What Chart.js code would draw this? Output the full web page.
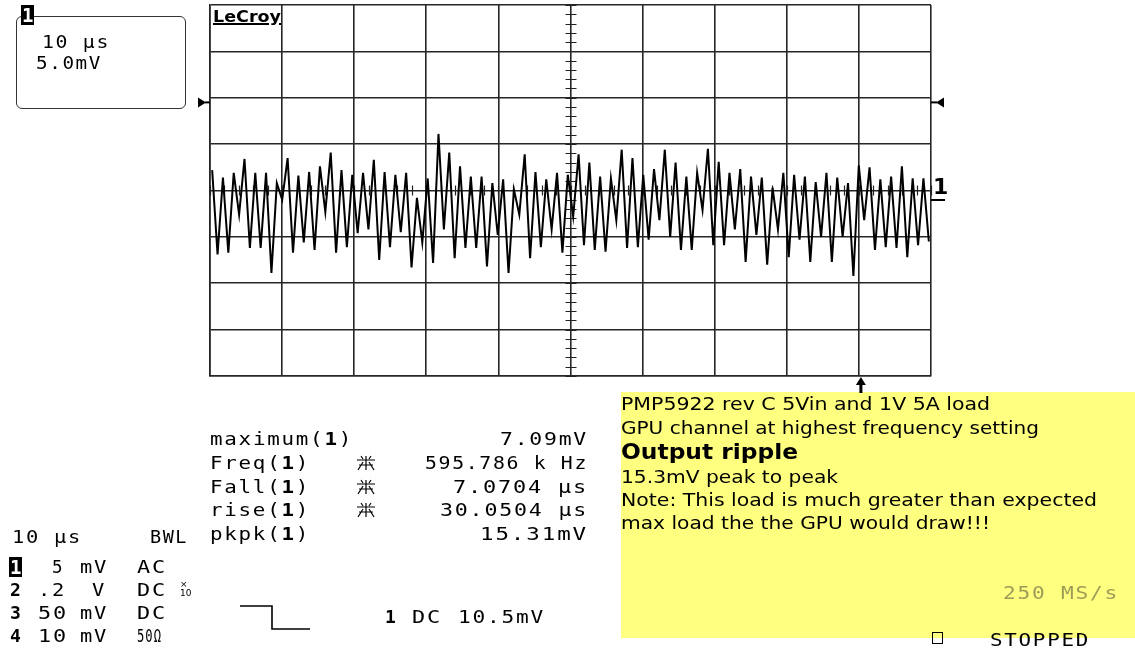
<!DOCTYPE html>
<html>
<head>
<meta charset="utf-8">
<script src="https://cdn.jsdelivr.net/npm/chart.js@4.4.1/dist/chart.umd.min.js"></script>
<style>
  html, body { margin: 0; padding: 0; background: #fff; }
  #wrap { position: relative; width: 1135px; height: 653px; overflow: hidden; }
  #scope { position: absolute; left: 0; top: 0; }
  #note { position: absolute; left: 621px; top: 392px; width: 514px; height: 246px; background: #ffff80; }
  #box { position: absolute; left: 16px; top: 16px; width: 168px; height: 91px; border: 1.5px solid #333; border-radius: 6px; }
  .t { position: absolute; white-space: pre; line-height: 20px; height: 20px; color: #000;
       font-family: 'DejaVu Sans Mono', monospace; font-size: 18px; letter-spacing: 1.5px; }
  .t b { font-weight: bold; }
  .n { font-family: 'DejaVu Sans', sans-serif; font-size: 17px; letter-spacing: 0; }
  .big { font-family: 'DejaVu Sans', sans-serif; font-size: 21px; font-weight: bold; letter-spacing: 0; }
  .logo { font-family: 'DejaVu Sans', sans-serif; font-size: 16px; font-weight: bold; letter-spacing: 0; text-decoration: underline; text-decoration-thickness: 2px; }
  .inv { background: #000; color: #fff; font-weight: bold; letter-spacing: 0; padding: 0 1px; font-size: 19px; line-height: 20px; }
  .mark { font-family: 'DejaVu Sans', sans-serif; font-weight: bold; font-size: 22px; letter-spacing: 0; }
  .olive { color: #9c9c58; }
  .tiny { font-size: 9px; line-height: 9px; letter-spacing: 0; font-family: 'DejaVu Sans', sans-serif; }
  #sq { position: absolute; left: 932px; top: 632px; width: 9px; height: 10px; border: 1.5px solid #000; }
</style>
</head>
<body>
<div id="wrap">
  <div id="note"></div>
  <div id="box"></div>
  <canvas id="scope" width="1135" height="653"></canvas>
  <div id="sq"></div>
</div>
<script>
// channel 1 ripple, mV, peaks and troughs read left to right off the screen
var rippleMv = [
  3.2, -5.9, 2.4, -5.7, 2.9, -1.6, 4.4, -5.2, 2.9, -5.2, 2.9, -7.9, 1.8, 0.0, 4.5, -5.7,
  2.6, -4.6, 3.0, -5.4, 3.6, -1.3, 5.1, -5.7, 3.2, -5.1, 2.7, -3.6, 2.9, -3.2, 4.3, -6.5,
  3.0, -5.1, 2.7,
  -3.5, 2.9, -7.3, 0.2, -4.6, 2.3, -6.8, 7.1, -3.2, 5.1, -6.3, 3.6, -5.2, 2.5, -5.2, 2.5,
  -7.2, 1.8, -3.8, 2.2, -7.9, 1.1, -1.6, 4.9, -6.3, 3.0, -5.1, 2.2, -3.2, 2.9, -5.7, 2.7,
  -1.8, 4.9, -4.9, 4.0, -5.4, 2.5, -5.6, 2.3, -2.2, 5.4, -5.2, 4.5, -5.1, 2.7, -4.3, 3.3,
  -2.2, 5.4, -4.0, 4.0, -5.4, 2.5, -5.4, 2.9, -1.1, 5.5, -4.9, 4.1, -4.9, 2.9, -3.2, 3.3,
  -6.7, 2.5,
  -3.8, 2.4, -7.0, 1.3, -3.2, 2.9, -6.2, 2.7, -4.3, 2.5, -6.7, 1.9, -4.0, 2.9, -6.7, 2.4,
  -4.0, 1.8, -8.2, 3.7, -2.2, 3.5, -5.4, 2.2, -5.1, 2.5, -5.2, 3.6, -6.2, 2.3, -4.9, 2.3,
  -4.5
];
// screen: 10 us/div, 5 mV/div, ground 0.2 div under centre
var xGridUs = [0, 10, 20, 30, 40, 50, 60, 70, 80, 90, 100];
var yGridMv = [-19, -14, -9, -4, 1, 6, 11, 16, 21];
var triggerMv = 10.5;
var triggerUs = 90;

var timeUs = rippleMv.map(function (v, i) { return 0.3 + i * 99.4 / (rippleMv.length - 1); });
var points = rippleMv.map(function (v, i) { return { x: timeUs[i], y: v }; });

var scopeMarks = {
    id: 'scopeMarks',
    beforeDatasetsDraw: function (chart) {
        var ctx = chart.ctx, sx = chart.scales.x, sy = chart.scales.y;
        var xc = sx.getPixelForValue(50), yc = sy.getPixelForValue(1);
        ctx.save();
        ctx.strokeStyle = '#222';
        ctx.lineWidth = 1.2;
        ctx.beginPath();
        for (var v = -19; v <= 21; v++) {
            var py = Math.round(sy.getPixelForValue(v)) + 0.5;
            ctx.moveTo(xc - 5, py); ctx.lineTo(xc + 6, py);
        }
        for (var t = 0; t <= 100; t += 2) {
            var px = Math.round(sx.getPixelForValue(t)) + 0.5;
            ctx.moveTo(px, yc - 5); ctx.lineTo(px, yc + 5);
        }
        ctx.stroke();
        ctx.restore();
    },
    afterDraw: function (chart) {
        var ctx = chart.ctx, sx = chart.scales.x, sy = chart.scales.y;
        var area = chart.chartArea;
        ctx.save();
        ctx.fillStyle = '#000';
        ctx.strokeStyle = '#000';
        // trigger level arrows
        var ty = sy.getPixelForValue(triggerMv);
        ctx.beginPath();
        ctx.moveTo(area.left - 12, ty - 5); ctx.lineTo(area.left - 4, ty); ctx.lineTo(area.left - 12, ty + 5);
        ctx.fill();
        ctx.fillRect(area.left - 5, ty - 1, 5, 2);
        ctx.beginPath();
        ctx.moveTo(area.right + 13, ty - 5); ctx.lineTo(area.right + 5, ty); ctx.lineTo(area.right + 13, ty + 5);
        ctx.fill();
        ctx.fillRect(area.right, ty - 1, 6, 2);
        // ground marker
        ctx.fillRect(area.right, Math.round(sy.getPixelForValue(0)) - 1, 14, 2);
        // trigger time arrow
        var tx = sx.getPixelForValue(triggerUs) + 2;
        ctx.beginPath();
        ctx.moveTo(tx - 5, area.bottom + 9); ctx.lineTo(tx, area.bottom + 1); ctx.lineTo(tx + 5, area.bottom + 9);
        ctx.fill();
        ctx.fillRect(tx - 1.5, area.bottom + 8, 3, 9);
        // trigger slope icon
        ctx.lineWidth = 1.6;
        ctx.beginPath();
        ctx.moveTo(240, 606); ctx.lineTo(272, 606); ctx.lineTo(272, 629); ctx.lineTo(310, 629);
        ctx.stroke();
        // parameter icons
        ctx.lineWidth = 1.2;
        [463, 487, 510].forEach(function (cy) {
            var x0 = 356;
            ctx.beginPath();
            ctx.moveTo(x0 + 10, cy - 7); ctx.lineTo(x0 + 10, cy + 7);
            ctx.moveTo(x0 + 1, cy - 3); ctx.lineTo(x0 + 19, cy - 3);
            ctx.moveTo(x0 + 3, cy + 2); ctx.lineTo(x0 + 17, cy + 2);
            ctx.moveTo(x0 + 2, cy + 7); ctx.lineTo(x0 + 7, cy - 1);
            ctx.moveTo(x0 + 18, cy + 7); ctx.lineTo(x0 + 13, cy - 1);
            ctx.moveTo(x0 + 5, cy - 7); ctx.lineTo(x0 + 7, cy - 4);
            ctx.moveTo(x0 + 15, cy - 7); ctx.lineTo(x0 + 13, cy - 4);
            ctx.stroke();
        });
        ctx.restore();
    }
};

var ctx = document.getElementById('scope').getContext('2d');
window.myChart = new Chart(ctx, {
    type: 'line',
    data: {
        datasets: [{
            label: 'C1',
            data: points,
            borderColor: '#000',
            borderWidth: 2,
            pointRadius: 0,
            tension: 0,
            borderJoinStyle: 'miter',
            fill: false
        }]
    },
    options: {
        responsive: false,
        animation: false,
        layout: { padding: { left: 210, right: 204, top: 5, bottom: 277 } },
        plugins: { legend: { display: false }, tooltip: { enabled: false } },
        scales: {
            x: {
                type: 'linear',
                min: 0,
                max: 100,
                afterBuildTicks: function (scale) {
                    scale.ticks = xGridUs.map(function (v) { return { value: v }; });
                },
                ticks: { display: false },
                grid: { color: '#262626', lineWidth: 1.6, drawTicks: false },
                border: { display: true, color: '#262626', width: 1.6 }
            },
            y: {
                type: 'linear',
                min: -19,
                max: 21,
                afterBuildTicks: function (scale) {
                    scale.ticks = yGridMv.map(function (v) { return { value: v }; });
                },
                ticks: { display: false },
                grid: { color: '#262626', lineWidth: 1.6, drawTicks: false },
                border: { display: true, color: '#262626', width: 1.6 }
            }
        }
    },
    plugins: [scopeMarks]
});

var wrap = document.getElementById('wrap');
function put(html, x, y, w, cls) {
    var d = document.createElement('div');
    d.className = 't' + (cls ? ' ' + cls : '');
    d.innerHTML = html;
    d.style.left = x + 'px';
    d.style.top = (y - 10) + 'px';
    wrap.appendChild(d);
    if (w) {
        var real = d.getBoundingClientRect().width;
        d.style.transformOrigin = '0 50%';
        d.style.transform = 'scaleX(' + (w / real).toFixed(3) + ')';
    }
    return d;
}

// top left box and logo
put('1', 21, 15, 0, 'inv');
put('10 µs', 42, 42, 68);
put('5.0mV', 36, 63, 66);
put('LeCroy', 213, 17, 68, 'logo');
put('1', 933, 187, 0, 'mark');

// measurements
put('maximum(<b>1</b>)', 210, 439, 143);
put('Freq(<b>1</b>)', 210, 463, 100);
put('Fall(<b>1</b>)', 210, 487, 100);
put('rise(<b>1</b>)', 210, 510, 100);
put('pkpk(<b>1</b>)', 210, 534, 100);
put('7.09mV', 500, 439, 88);
put('595.786 k Hz', 425, 463, 163);
put('7.0704 µs', 453, 487, 135);
put('30.0504 µs', 440, 510, 148);
put('15.31mV', 480, 534, 108);

// channel setup
put('10 µs', 12, 537, 70);
put('BWL', 150, 537, 38);
put('1', 9, 567, 0, 'inv');
put('5', 52, 567, 12);
put('mV', 80, 567, 28);
put('AC', 137, 567, 30);
put('<b>2</b>', 10, 590, 0);
put('.2', 38, 590, 28);
put('V', 92, 590, 14);
put('DC', 137, 590, 30);
put('×<br>10', 180, 590, 0, 'tiny');
put('<b>3</b>', 10, 613, 0);
put('50', 38, 613, 30);
put('mV', 80, 613, 28);
put('DC', 137, 613, 30);
put('<b>4</b>', 10, 636, 0);
put('10', 38, 636, 30);
put('mV', 80, 636, 28);
put('50Ω', 137, 636, 25);
put('<b>1</b>', 385, 617, 0);
put('DC', 412, 617, 30);
put('10.5mV', 458, 617, 87);

// annotation
put('PMP5922 rev C 5Vin and 1V 5A load', 621, 404, 369, 'n');
put('GPU channel at highest frequency setting', 621, 428, 418, 'n');
put('Output ripple', 621, 452, 177, 'big');
put('15.3mV peak to peak', 621, 477, 217, 'n');
put('Note: This load is much greater than expected', 621, 500, 476, 'n');
put('max load the the GPU would draw!!!', 621, 523, 369, 'n');
put('250 MS/s', 1003, 593, 116, 'olive');
put('STOPPED', 990, 640, 100);
</script>
</body>
</html>
